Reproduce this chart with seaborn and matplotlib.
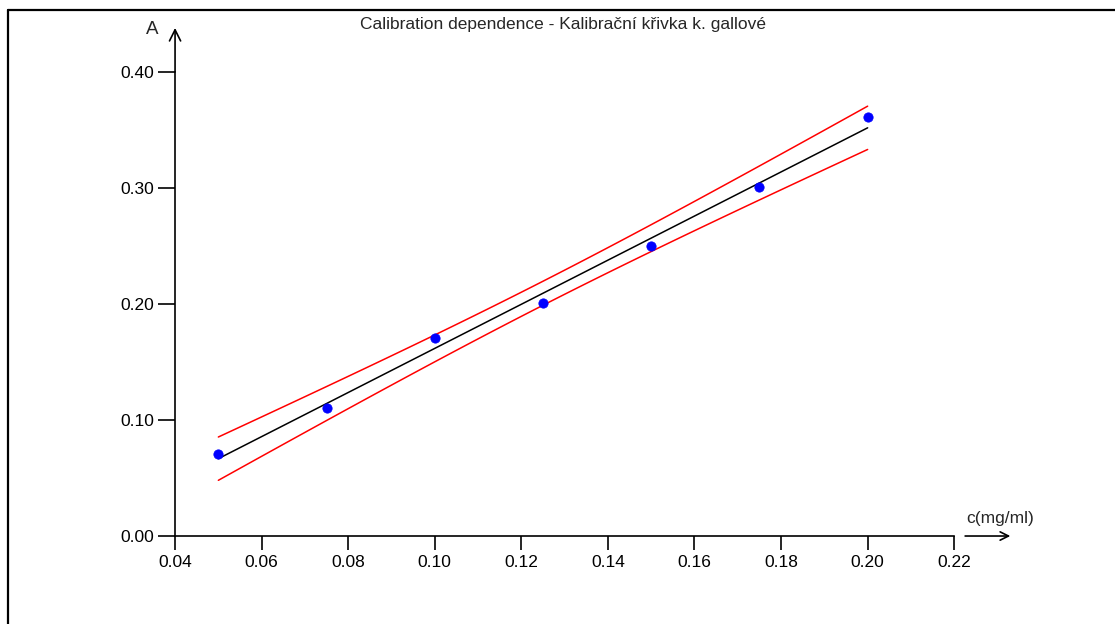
import numpy as np
import pandas as pd
import matplotlib
matplotlib.use("Agg")
import matplotlib.pyplot as plt
from matplotlib.lines import Line2D
import seaborn as sns

# calibration points
conc = [0.05, 0.075, 0.10, 0.125, 0.15, 0.175, 0.20]
absorb = [0.071, 0.110, 0.171, 0.201, 0.250, 0.301, 0.361]
x_ticks = [0.04, 0.06, 0.08, 0.10, 0.12, 0.14, 0.16, 0.18, 0.20, 0.22]
y_ticks = [0.00, 0.10, 0.20, 0.30, 0.40]

T_CRIT = 3.365  # Student t, 5 degrees of freedom

sns.set_style("ticks")
plt.rcParams['font.family'] = ['Liberation Sans', 'DejaVu Sans']
FS = 12.5

df = pd.DataFrame({'c': conc, 'A': absorb})

# least squares fit and confidence band
x = df['c'].to_numpy()
y = df['A'].to_numpy()
slope, icept = np.polyfit(x, y, 1)
resid = y - (slope * x + icept)
s = np.sqrt(np.sum(resid ** 2) / (len(x) - 2))
sxx = np.sum((x - x.mean()) ** 2)
xf = np.linspace(x.min(), x.max(), 100)
yf = slope * xf + icept
half = T_CRIT * s * np.sqrt(1 / len(x) + (xf - x.mean()) ** 2 / sxx)

fig = plt.figure(figsize=(11.15, 6.24), dpi=100)
ax = fig.add_axes([0.157, 0.141, 0.6988, 0.7436])

ax.plot(xf, yf, color='black', lw=1.1)
ax.plot(xf, yf + half, color='red', lw=1.1)
ax.plot(xf, yf - half, color='red', lw=1.1)
sns.scatterplot(data=df, x='c', y='A', ax=ax, color='#0000ff', s=45,
                edgecolor='#0000ff', zorder=5)

ax.set_xlim(0.04, 0.22)
ax.set_ylim(0, 0.40)
ax.set_xticks(x_ticks)
ax.set_yticks(y_ticks)
ax.set_xticklabels([f"{v:.2f}" for v in x_ticks])
ax.set_yticklabels([f"{v:.2f}" for v in y_ticks])
ax.tick_params(axis='both', labelsize=FS, colors='black', width=1.2,
               bottom=True, left=True, top=False, right=False)
ax.tick_params(axis='x', direction='out', length=10, pad=4)
ax.tick_params(axis='y', direction='out', length=12, pad=3)
ax.set_xlabel('')
ax.set_ylabel('')
for side in ['top', 'right']:
    ax.spines[side].set_visible(False)
for side in ['left', 'bottom']:
    ax.spines[side].set_color('black')
    ax.spines[side].set_linewidth(1.2)

# axis arrows
ax.annotate('', xy=(0, 1.095), xytext=(0, 1.0), xycoords='axes fraction',
            arrowprops=dict(arrowstyle='->', color='black', lw=1.2,
                            mutation_scale=20, shrinkA=0, shrinkB=0))
ax.annotate('', xy=(1.072, 0), xytext=(1.014, 0), xycoords='axes fraction',
            arrowprops=dict(arrowstyle='->', color='black', lw=1.2,
                            mutation_scale=15, shrinkA=0, shrinkB=0))
fig.text(152 / 1115, 1 - 30 / 624, 'A', fontsize=FS + 1, ha='center', va='center')
fig.text(1000 / 1115, 1 - 519 / 624, 'c(mg/ml)', fontsize=FS, ha='center', va='center')

fig.text(563 / 1115, 1 - 24 / 624, 'Calibration dependence - Kalibrační křivka k. gallové',
         fontsize=FS, ha='center', va='center')

# frame on top and left edges
fig.add_artist(Line2D([8 / 1115, 1], [1 - 10 / 624, 1 - 10 / 624],
                      transform=fig.transFigure, color='black', lw=1.6))
fig.add_artist(Line2D([8 / 1115, 8 / 1115], [0, 1 - 10 / 624],
                      transform=fig.transFigure, color='black', lw=1.6))

fig.savefig('out.png', dpi=100)
